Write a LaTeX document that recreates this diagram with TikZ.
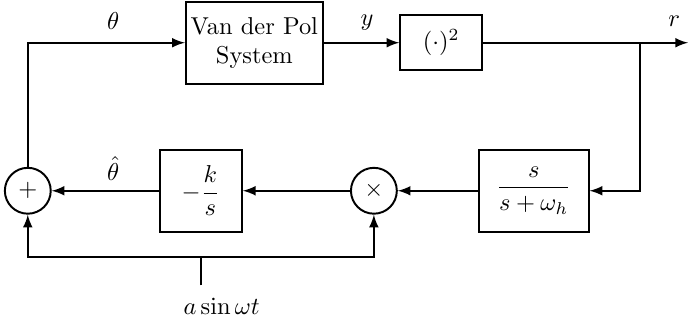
\documentclass[tikz,border=0pt]{standalone}
\usepackage{tikz}
\usetikzlibrary{positioning,arrows}
\usepackage{amsmath,amssymb}
\tikzstyle{block} = [draw,thick,rectangle,align=center,inner sep=2pt]
\tikzstyle{junc} = [draw,thick,circle,minimum size=0.66cm,inner sep=0pt]

\begin{document}
\begin{tikzpicture}[>=latex,thick]
    \useasboundingbox (0,0) rectangle (9.9,4.705);
    % Draw the blocks
    \node[block,minimum width=1.97cm,minimum height=1.18cm] (vdp) at (3.66,4.09) {Van der Pol\\System};
    \node[block,minimum width=1.18cm,minimum height=0.79cm] (sq) at (6.35,4.09) {$(\cdot)^2$};
    \node[block,minimum width=1.58cm,minimum height=1.18cm] (filt) at (7.68,1.96) {$\dfrac{s}{s+\omega_h}$};
    \node[block,minimum width=1.18cm,minimum height=1.18cm] (gain) at (2.89,1.96) {$-\dfrac{k}{s}$};
    \node[junc] (mult) at (5.38,1.96) {$\times$};
    \node[junc] (sum) at (0.40,1.96) {$+$};
    % Output and branch points
    \coordinate (out) at (9.9,4.09);
    \coordinate (branch) at (9.21,4.09);
    \coordinate (in) at (2.89,0.60);
    \coordinate (join) at (2.89,1.01);
    % Forward path
    \draw[->] (sum.north) |- (vdp.west);
    \draw[->] (vdp.east) -- (sq.west);
    \draw[->] (sq.east) -- (out);
    % Feedback path
    \draw[->] (branch) |- (filt.east);
    \draw[->] (filt.west) -- (mult.east);
    \draw[->] (mult.west) -- (gain.east);
    \draw[->] (gain.west) -- (sum.east);
    % Dither input
    \draw (in) -- (join);
    \draw[->] (join) -| (sum.south);
    \draw[->] (join) -| (mult.south);
    % Labels
    \node (theta) at (1.63,4.40) {$\theta$};
    \node (ylab) at (5.28,4.38) {$y$};
    \node (rlab) at (9.70,4.40) {$r$};
    \node (thetahat) at (1.63,2.28) {$\hat{\theta}$};
    \node (dither) at (3.19,0.30) {$a\sin\omega t$};
\end{tikzpicture}
\end{document}
